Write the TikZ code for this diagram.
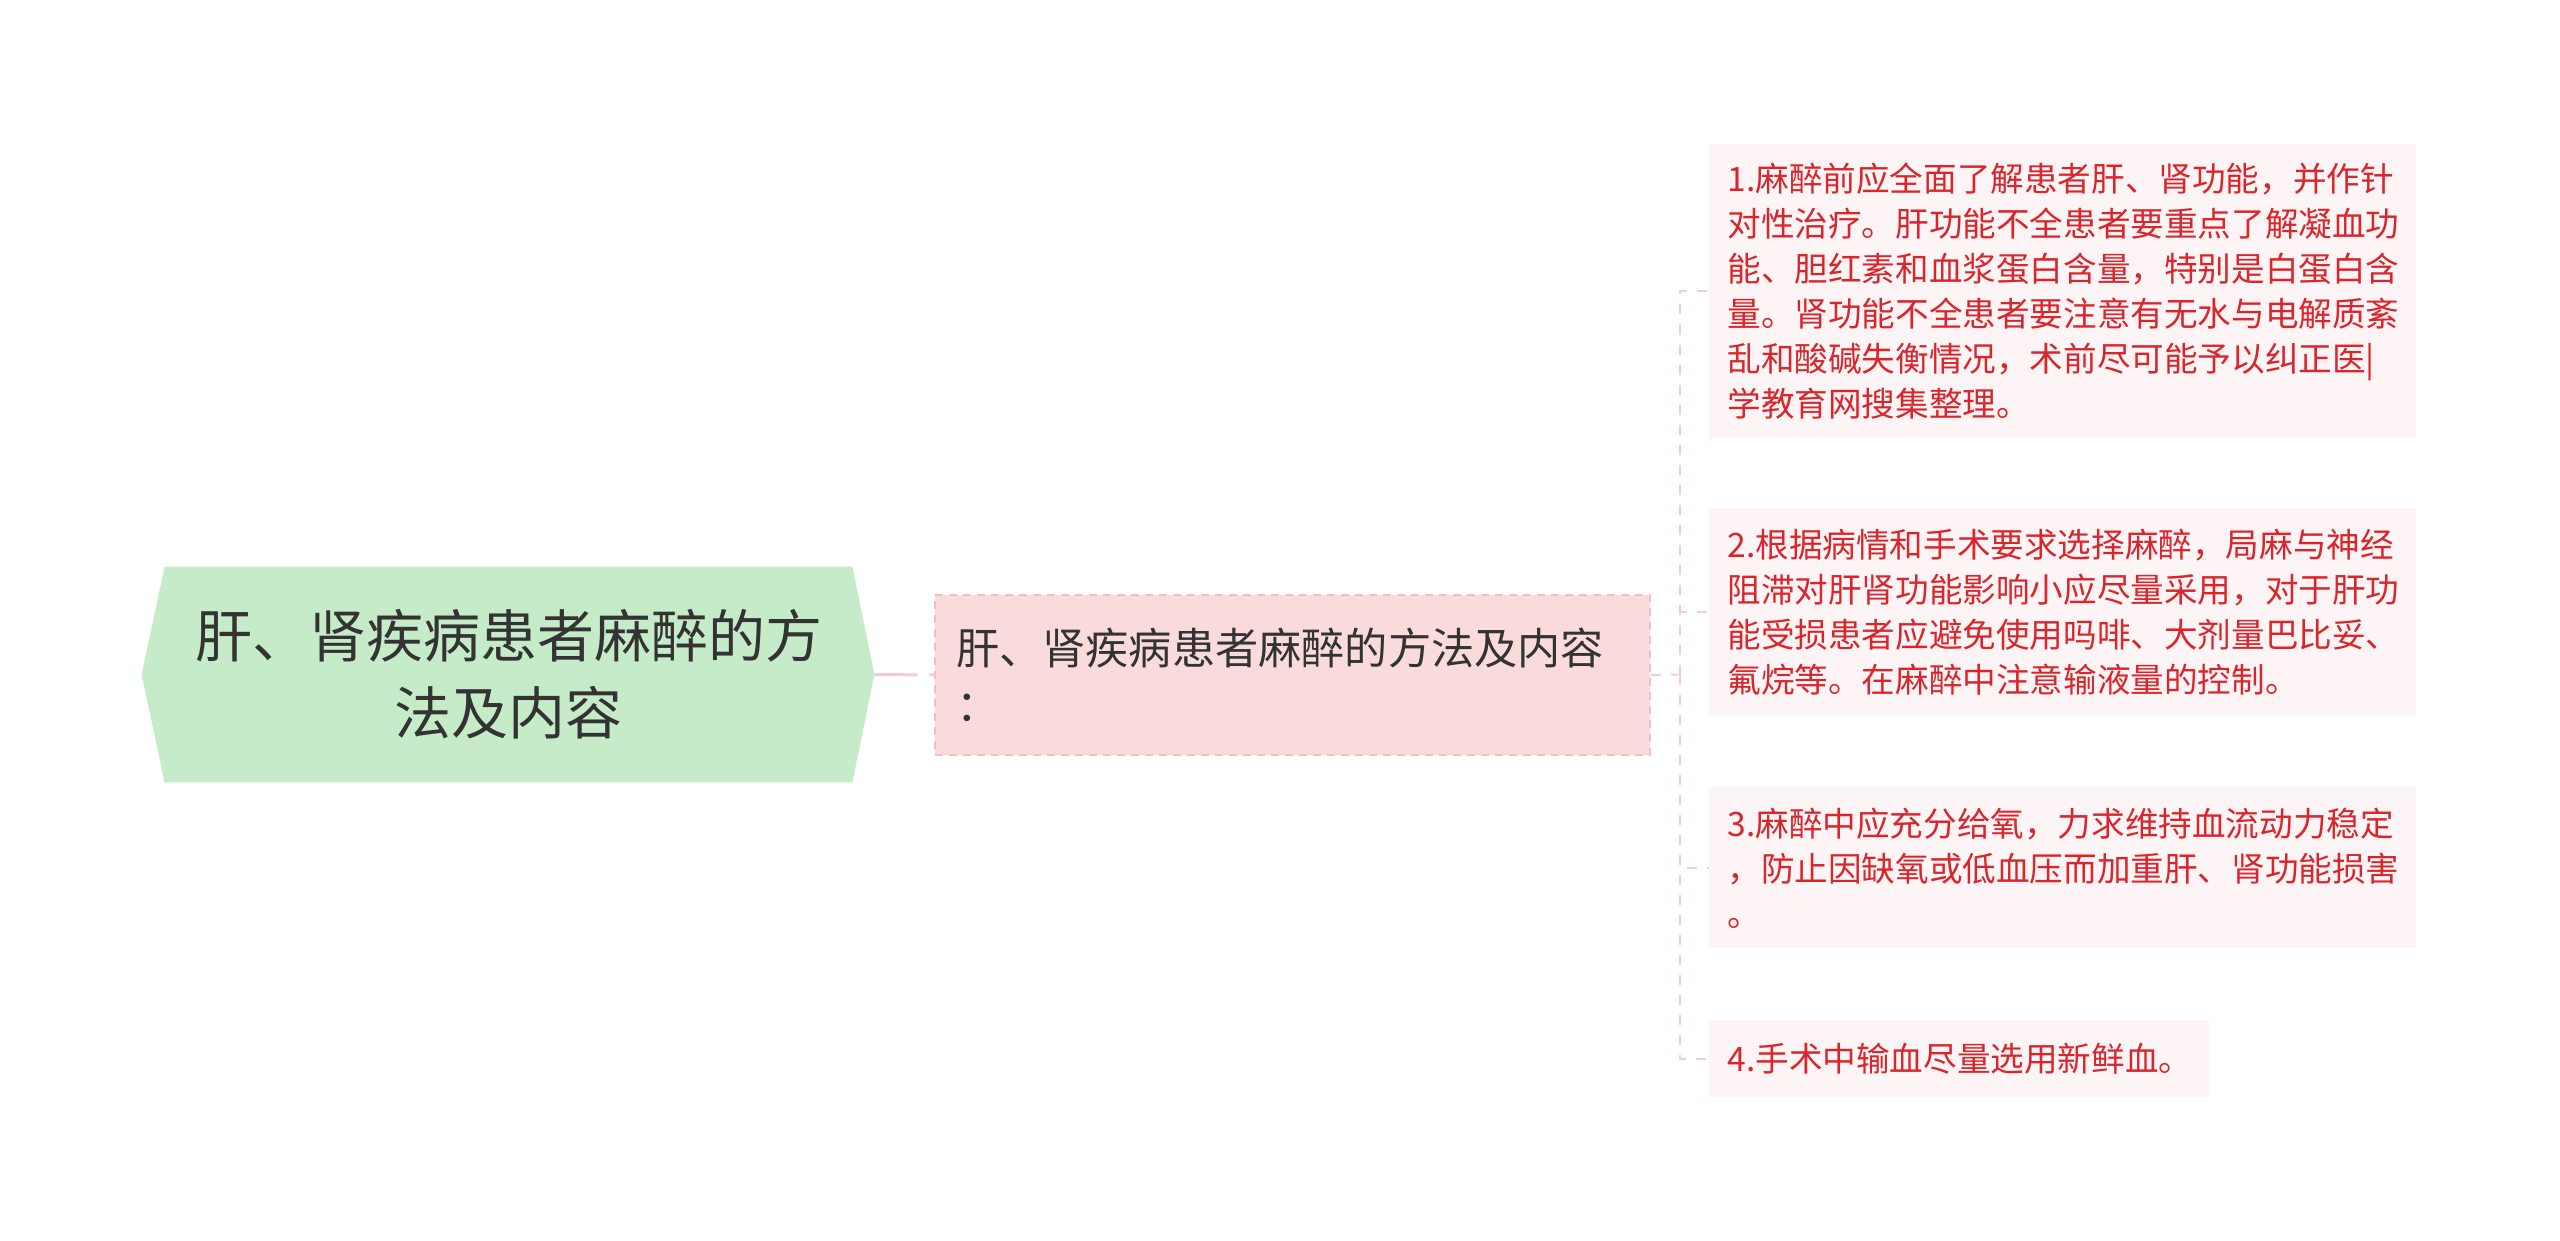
\documentclass[tikz,border=0pt]{standalone}
\usepackage{fontspec}
\setmainfont{Noto Sans CJK SC}
\usetikzlibrary{backgrounds}
\definecolor{rootgreen}{HTML}{C5EBC9}
\definecolor{pinkfill}{HTML}{FADBDB}
\definecolor{pinkborder}{HTML}{F2BFC1}
\definecolor{leaffill}{HTML}{FDF5F5}
\definecolor{leafred}{HTML}{D9252B}
\definecolor{linepink}{HTML}{F4CDD0}
\definecolor{textdark}{HTML}{333333}
\begin{document}
\begin{tikzpicture}[x=0.5pt,y=-0.5pt,
  rootbox/.style={minimum width=343.5pt, minimum height=107.5pt, inner sep=0pt,
    align=center, text=textdark, font=\fontsize{28.5pt}{38.5pt}\selectfont},
  midbox/.style={anchor=north west, minimum width=357.5pt, minimum height=80pt,
    text width=336.5pt, inner xsep=10.5pt, inner ysep=0pt, align=left,
    fill=pinkfill, draw=pinkborder, line width=1pt, dash pattern=on 4pt off 3pt,
    text=textdark, font=\fontsize{21.6pt}{28.5pt}\selectfont},
  leafbox/.style={anchor=north west, minimum width=353.5pt, text width=335.5pt,
    inner xsep=9pt, inner ysep=0pt, align=left, fill=leaffill, text=leafred,
    font=\fontsize{16.8pt}{22.5pt}\selectfont},
  rootconn/.style={draw=linepink, line width=1.5pt, dash pattern=on 21.5pt off 6pt},
  treeconn/.style={draw=linepink, line width=1pt, dash pattern=on 5pt off 5pt}
]
\useasboundingbox (0,0) rectangle (2560,1241);

\node[rootbox] (root) at (508.5,674.5) {肝、肾疾病患者麻醉的方\\法及内容};
\begin{scope}[on background layer]
  \fill[rootgreen] ([xshift=-11.5pt]root.west) -- (root.north west) -- (root.north east)
    -- ([xshift=11pt]root.east) -- (root.south east) -- (root.south west) -- cycle;
\end{scope}
\coordinate (roottip) at ([xshift=11pt]root.east);

\node[midbox] (mid) at (934,594) {肝、肾疾病患者麻醉的方法及内容\\：};

\node[leafbox, minimum height=147pt] (leaf1) at (1709,144)
  {1.麻醉前应全面了解患者肝、肾功能，并作针\\对性治疗。肝功能不全患者要重点了解凝血功\\能、胆红素和血浆蛋白含量，特别是白蛋白含\\量。肾功能不全患者要注意有无水与电解质紊\\乱和酸碱失衡情况，术前尽可能予以纠正医|\\学教育网搜集整理。};
\node[leafbox, minimum height=103.5pt] (leaf2) at (1709,508)
  {2.根据病情和手术要求选择麻醉，局麻与神经\\阻滞对肝肾功能影响小应尽量采用，对于肝功\\能受损患者应避免使用吗啡、大剂量巴比妥、\\氟烷等。在麻醉中注意输液量的控制。};
\node[leafbox, minimum height=80.5pt] (leaf3) at (1709,787)
  {3.麻醉中应充分给氧，力求维持血流动力稳定\\，防止因缺氧或低血压而加重肝、肾功能损害\\。};
\node[leafbox, minimum height=38.5pt, minimum width=250pt, text width=232pt] (leaf4) at (1709,1020)
  {4.手术中输血尽量选用新鲜血。};

\draw[rootconn] (roottip) -- (mid.west);
\coordinate (trunk) at (1680,674.5);
\draw[treeconn] (mid.east) -- (trunk);
\draw[treeconn] (trunk) |- (leaf1.west);
\draw[treeconn] (trunk) |- (leaf2.west);
\draw[treeconn] (trunk) |- (leaf3.west);
\draw[treeconn] (trunk) |- (leaf4.west);
\end{tikzpicture}
\end{document}
